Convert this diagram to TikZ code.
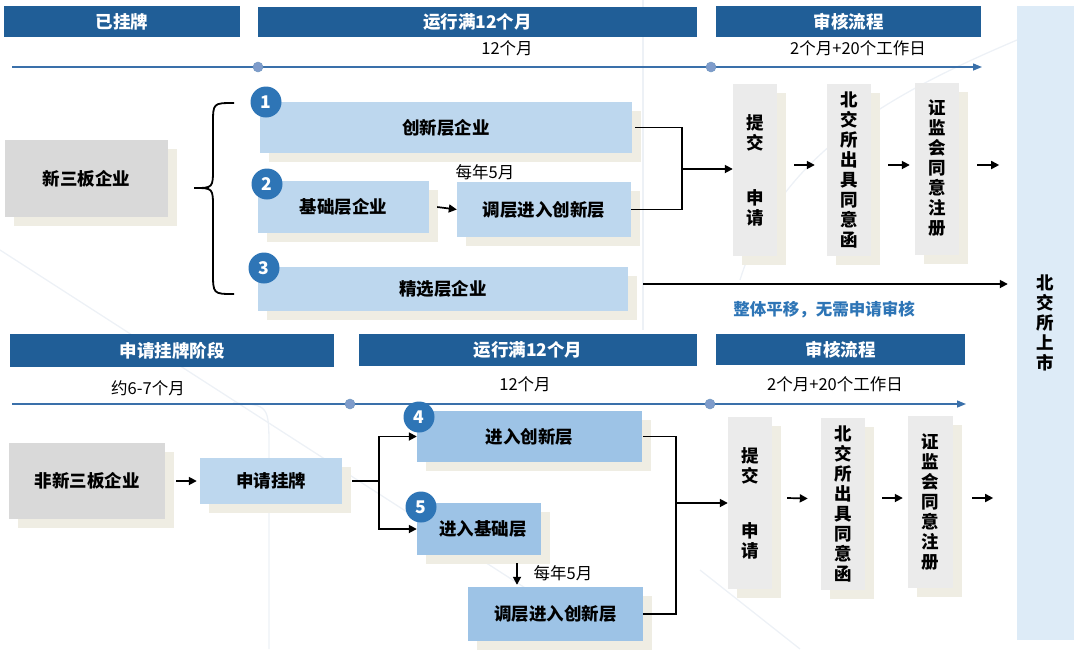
\documentclass[tikz,border=0pt]{standalone}
\usepackage{fontspec}
\setmainfont{Noto Sans CJK SC}
\usetikzlibrary{shadows,arrows.meta,calc}
\definecolor{hdrblue}{HTML}{205E97}
\definecolor{lblue}{HTML}{BDD7EE}
\definecolor{mblue}{HTML}{9DC3E6}
\definecolor{cblue}{HTML}{2E75B6}
\definecolor{tlblue}{HTML}{3A70AA}
\definecolor{dotblue}{HTML}{7F9CCB}
\definecolor{gboxc}{HTML}{D9D9D9}
\definecolor{pboxc}{HTML}{EBEBEB}
\definecolor{shadc}{HTML}{EFEDE3}
\definecolor{panelc}{HTML}{DDEBF7}
\definecolor{faintc}{HTML}{EDF1F6}
\newcommand\myfs{\fontsize{17.5pt}{20pt}\selectfont}
\newcommand\mysfs{\fontsize{16.5pt}{20pt}\selectfont}
\begin{document}
\begin{tikzpicture}[x=1pt,y=-1pt,
  hdr/.style={fill=hdrblue, text=white, font=\bfseries\myfs, inner sep=0pt},
  shad/.style={drop shadow={fill=shadc, opacity=1, shadow xshift=9pt, shadow yshift=-9pt}},
  bluebox/.style={fill=lblue, font=\bfseries\myfs, inner sep=0pt, shad},
  midbox/.style={fill=mblue, font=\bfseries\myfs, inner sep=0pt, shad},
  graybox/.style={fill=gboxc, font=\bfseries\myfs, inner sep=0pt, shad},
  procbox/.style={fill=pboxc, font=\bfseries\myfs, inner sep=0pt, align=center, shad, minimum width=44, minimum height=172},
  numc/.style={circle, fill=cblue, text=white, font=\bfseries\myfs, inner sep=0pt, minimum size=31},
  lbl/.style={font=\mysfs, inner sep=0pt},
  tline/.style={draw=tlblue, line width=1.4pt, -{Triangle[length=9pt,width=7pt]}},
  tdot/.style={circle, fill=dotblue, draw=tlblue!70, line width=0.5pt, minimum size=10, inner sep=0pt},
  conn/.style={draw=black, line width=1.7pt},
  arr/.style={draw=black, line width=1.7pt, -{Triangle[length=8pt,width=8pt]}},
  faint/.style={draw=faintc, line width=1.3pt}
]
\useasboundingbox (0,0) rectangle (1080,649);
% faint background lines
\draw[faint] (0,250) -- (620,649);
\draw[faint] (233,403) .. controls (269,405) .. (269,450) -- (269,649);
\draw[faint] (643,0) -- (643,330);
\draw[faint] (700,570) -- (800,649);
\draw[faint] (740,280) .. controls (780,150) and (900,90) .. (1017,40);

% right panel
\node[fill=panelc, inner sep=0pt, minimum width=57, minimum height=634, font=\bfseries\myfs, align=center] (pan) at (1045.5,323) {北\\交\\所\\上\\市};

% ===== top section =====
\node[hdr, minimum width=236, minimum height=31] (h1) at (122,21.5) {已挂牌};
\node[hdr, minimum width=439, minimum height=30] (h2) at (477.5,22) {运行满12个月};
\node[hdr, minimum width=265, minimum height=31] (h3) at (848.5,21.5) {审核流程};
\node[lbl] (l12a) at (507,48) {12个月};
\node[lbl] (l2a) at (858,48) {2个月+20个工作日};
\coordinate (t1s) at (12,67);
\coordinate (t1e) at (982,67);
\draw[tline] (t1s) -- (t1e);
\node[tdot] (d1a) at (258,67) {};
\node[tdot] (d1b) at (711,67) {};

\node[graybox, minimum width=163, minimum height=77] (g1) at (86.5,178.5) {新三板企业};
% brace
\draw[line width=1.8pt] (234,103) .. controls (213,103) .. (213,124) -- (213,168) .. controls (213,188) .. (194,188) .. controls (213,188) .. (213,208) -- (213,272) .. controls (213,294) .. (234,294);

\node[bluebox, minimum width=372, minimum height=51] (b1) at (446,127.5) {创新层企业};
\node[bluebox, minimum width=171, minimum height=52] (b2) at (343.5,207) {基础层企业};
\node[bluebox, minimum width=174, minimum height=55] (b2b) at (544,209.5) {调层进入创新层};
\node[bluebox, minimum width=370, minimum height=44] (b3) at (443,289) {精选层企业};
\node[numc] (c1) at (266,102) {1};
\node[numc] (c2) at (267,184) {2};
\node[numc] (c3) at (264,268) {3};
\node[lbl] (m1) at (485,172) {每年5月};
\draw[arr] ([xshift=8pt]b2.east) -- (b2b.west);

\node[procbox] (p1) at (755,170) {提\\交\\[35pt]申\\请};
\node[procbox] (p2) at (849,170) {北\\交\\所\\出\\具\\同\\意\\函};
\node[procbox] (p3) at (937,168.5) {证\\监\\会\\同\\意\\注\\册};

\coordinate (j1) at (682,169);
\draw[conn] ([xshift=3pt]b1.east) -| (j1);
\draw[conn] (b2b.east) -| (j1);
\draw[arr] (j1) -- (p1.west |- j1);
\draw[arr] ($(p1.east)+(17,-5)$) -- ($(p2.west)+(-12,-5)$);
\draw[arr] ($(p2.east)+(17,-5)$) -- ($(p3.west)+(-5,-3.5)$);
\draw[arr] ($(p3.east)+(18,-3.5)$) -- ($(p3.east)+(40,-3.5)$);
\draw[arr] ($(b3.east)+(15,-5)$) -- ($(pan.west)+(-9,-39)$);
\node[font=\bfseries\mysfs, text=cblue, inner sep=0pt] (flat) at (824,310) {整体平移，无需申请审核};

% ===== lower section =====
\node[hdr, minimum width=324, minimum height=33] (h4) at (172,350.5) {申请挂牌阶段};
\node[hdr, minimum width=338, minimum height=32] (h5) at (528,350) {运行满12个月};
\node[hdr, minimum width=249, minimum height=31] (h6) at (840.5,349.5) {审核流程};
\node[lbl] (l67) at (148,388) {约6-7个月};
\node[lbl] (l12b) at (525,384) {12个月};
\node[lbl] (l2b) at (835,384) {2个月+20个工作日};
\coordinate (t2s) at (12,404);
\coordinate (t2e) at (966,404);
\draw[tline] (t2s) -- (t2e);
\node[tdot] (d2a) at (350,404) {};
\node[tdot] (d2b) at (710,404) {};

\node[graybox, minimum width=156, minimum height=76] (g2) at (87,481) {非新三板企业};
\node[bluebox, minimum width=142, minimum height=46] (s1) at (271,481) {申请挂牌};
\draw[arr] ([xshift=11pt]g2.east) -- ([xshift=-3pt]s1.west);

\node[midbox, minimum width=225, minimum height=51] (e1) at (529.5,436.5) {进入创新层};
\node[midbox, minimum width=124, minimum height=52] (e2) at (479,529) {\hspace*{8pt}进入基础层};
\node[midbox, minimum width=175, minimum height=54] (e3) at (555.5,614) {调层进入创新层};
\node[numc] (c4) at (419,417) {4};
\node[numc] (c5) at (421,507) {5};

\coordinate (j2) at (379,481);
\draw[conn] ([xshift=10pt]s1.east) -- (j2);
\draw[arr] (j2) |- (e1.west);
\draw[arr] (j2) |- (e2.west);
\draw[arr] ($(e2.south)+(38,8)$) -- ($(e3.north)+(-38.5,-2)$);
\node[lbl] (m2) at (563,573) {每年5月};

\node[procbox] (q1) at (750,503) {提\\交\\[35pt]申\\请};
\node[procbox] (q2) at (843,503.5) {北\\交\\所\\出\\具\\同\\意\\函};
\node[procbox, minimum width=45] (q3) at (930.5,502) {证\\监\\会\\同\\意\\注\\册};

\coordinate (j3) at (676,503);
\draw[conn] ([xshift=1pt]e1.east) -| (j3);
\draw[conn] (e3.east) -| (j3);
\draw[arr] (j3) -- (q1.west |- j3);
\draw[arr] ($(q1.east)+(15,-5)$) -- ($(q2.west)+(-13,-5)$);
\draw[arr] ($(q2.east)+(17,-5.5)$) -- ($(q3.west)+(-5,-4)$);
\draw[arr] ($(q3.east)+(19,-4)$) -- ($(q3.east)+(40,-4)$);
\end{tikzpicture}
\end{document}
